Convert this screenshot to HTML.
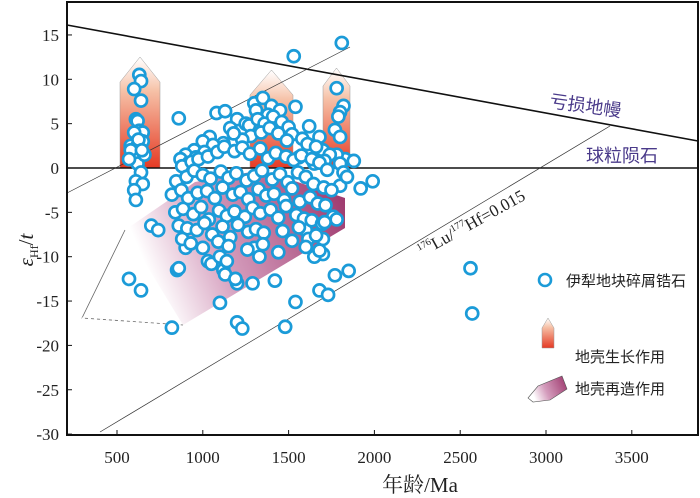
<!DOCTYPE html>
<html><head><meta charset="utf-8"><style>
html,body{margin:0;padding:0;background:#fff;}
svg{display:block;font-family:"Liberation Serif","Noto Serif CJK SC",serif;}
</style></head><body>
<div style="position:relative;width:700px;height:498px;">
<svg id="chart" width="700" height="498" viewBox="0 0 700 498" xmlns="http://www.w3.org/2000/svg" style="position:absolute;left:0;top:0;">
<defs>
<linearGradient id="growth" x1="0" y1="0" x2="0" y2="1">
<stop offset="0" stop-color="#fff" stop-opacity="0.9"/><stop offset="0.3" stop-color="#f6c2a8"/><stop offset="1" stop-color="#e53a24"/></linearGradient>
<linearGradient id="rework" x1="0" y1="0.3" x2="1" y2="0">
<stop offset="0" stop-color="#fff"/><stop offset="0.35" stop-color="#d49cbc"/><stop offset="1" stop-color="#9a3268"/></linearGradient>
</defs>
<g id="bg"></g>
<g id="pts"></g>
<g id="fg"></g>
<text x="420" y="492" text-anchor="middle" font-size="21" fill="#222">年龄/Ma</text>
<text transform="translate(33,250) rotate(-90)" text-anchor="middle" font-size="21" fill="#222"><tspan font-style="italic">ε</tspan><tspan font-size="12" dy="5">Hf</tspan><tspan dy="-5">/</tspan><tspan font-style="italic">t</tspan></text>
<text transform="translate(549,107) rotate(8)" font-size="18" fill="#4a3a8a" font-family="Noto Sans CJK SC, sans-serif">亏损地幔</text>
<text x="586" y="162" font-size="18" fill="#4a3a8a" font-family="Noto Sans CJK SC, sans-serif">球粒陨石</text>
<text transform="translate(422,257) rotate(-29)" font-size="17" fill="#222"><tspan font-size="10" dy="-7">176</tspan><tspan dy="7">Lu/</tspan><tspan font-size="10" dy="-7">177</tspan><tspan dy="7">Hf=0.015</tspan></text>
<g font-family="Noto Sans CJK SC, sans-serif" font-size="15" fill="#222">
<circle cx="545" cy="280" r="6" fill="#fff" stroke="#1b9bd8" stroke-width="2.6"/>
<text x="566" y="286">伊犁地块碎屑锆石</text>
<polygon points="542,348 542,328 548,318 554,328 554,348" fill="url(#growth)" stroke="#999" stroke-width="0.5"/>
<text x="575" y="362">地壳生长作用</text>
<polygon points="528,398 538,386 562,376 567,389 550,400 533,402" fill="url(#rework)" stroke="#555" stroke-width="0.6"/>
<text x="575" y="394">地壳再造作用</text>
</g>
</svg>
</div>
<script>
const ageTicks=[500,1000,1500,2000,2500,3000,3500];
const epsTicks=[15,10,5,0,-5,-10,-15,-20,-25,-30];
const ages=[630,640,600,640,610,620,630,650,580,620,650,600,620,640,610,650,600,610,580,660,570,600,625,645,
860,1530,1810,
1780,1820,1800,1790,1770,1800,1830,1780,1800,1820,1800,1840,1760,1780,
820,850,860,900,1030,1050,1100,1120,1140,1100,1200,1230,1420,1480,1540,1680,1700,1730,1770,1850,2560,2570,570,640,700,740,1990,1920,1880,1700,1650,1600,1300,1330,1200,
1300,1350,1400,1450,1540,1310,1380,1080,1130,1200,1250,1160,1040,1000,950,900,870,1620,1680,1700,1740,1650,1560,
1270,1320,1360,1410,1460,1500,1520,1280,1230,1180,1120,1060,1010,960,920,1340,1390,1440,1490,1580,1610,1660,1710,
880,935,975,1030,1085,1125,1185,1230,1275,1335,1380,1425,1485,1530,1575,1635,1680,1725,
845,905,950,1000,1045,1105,1150,1195,1255,1300,1345,1405,1450,1495,1555,1600,1645,1705,1750,
820,875,915,970,1025,1070,1115,1175,1220,1265,1325,1370,1415,1475,1520,1565,1625,1670,1715,
840,885,945,990,1035,1095,1140,1185,1245,1290,1335,1395,1440,1485,1545,1590,1635,1695,
860,910,965,1010,1055,1115,1160,1205,1265,1310,1355,1465,1560,1615,1660,1710,
880,930,1000,1090,1150,1260,1350,1440,1520,1600,1680,1130,1190,1290];
const eps=[10.5,9.8,8.9,7.6,5.5,5.3,4.2,4,2.5,2.5,3,1,0.5,-0.5,-1.5,-1.8,-2.5,-3.6,2,1.5,1,4,3.2,2,
5.6,12.6,14.1,
9,7,6.3,5.8,4.3,3.5,1,1.5,0.5,-0.5,-2,-1,-5.5,-5.8,
-18,-11.5,-11.3,-9,-10.5,-10.8,-10,-11.5,-10.5,-15.2,-17.4,-18.1,-12.7,-17.9,-15.1,-13.8,-9.7,-14.3,-12.1,-11.6,-11.3,-16.4,-12.5,-13.8,-6.5,-7,-1.5,-2.3,0.8,-8,-10,-7,-9,-10,-13,
7.3,7.9,7,6.5,6.9,6.5,6,6.2,6.4,5.5,5,4.5,3.5,3,2,1.5,1,4.7,3.5,2,1.5,0.5,1.2,
4.8,5.5,5,5.8,5.2,4.6,3.8,3.6,3.2,3.9,2.8,2.6,1.8,1.2,0.6,4,4.5,3.9,3.1,3.3,2.7,2.4,0.8,
0.2,0.7,1,1.3,1.8,2.4,1.9,2.3,1.6,2.2,1.1,1.7,1.3,0.9,1.4,1,0.6,-0.2,
-1.5,-1,-0.3,-0.8,-1.2,-0.4,-1.1,-0.6,-1.4,-0.9,-0.3,-1.3,-0.7,-1.6,-0.5,-1,-1.8,-2.2,-2.5,
-3,-2.5,-3.4,-2.8,-2.6,-3.4,-2.2,-3,-2.7,-3.5,-2.4,-3.1,-2.9,-3.6,-2.3,-3.8,-3.3,-4,-4.2,
-5,-4.6,-5.2,-4.4,-5.8,-4.8,-5.4,-4.9,-5.5,-4.5,-5.1,-4.7,-5.6,-4.3,-5.3,-5.7,-5.9,-6.3,
-6.5,-6.8,-7,-6.2,-7.5,-6.6,-7.8,-6.4,-7.2,-6.9,-7.3,-7.1,-6.7,-8,-7.6,-6.1,
-8,-8.5,-9,-8.3,-8.8,-9.2,-8.6,-9.5,-8.2,-8.9,-9.3,-12,-12.5,-13];
const SVGNS="http://www.w3.org/2000/svg";
const X=a=>117+(a-500)*0.1716;
const Y=e=>168-e*8.87;
function mk(tag,attrs,parent,txt){const el=document.createElementNS(SVGNS,tag);for(const k in attrs)el.setAttribute(k,attrs[k]);if(txt!==undefined)el.textContent=txt;parent.appendChild(el);return el;}
const bg=document.getElementById('bg'),pts=document.getElementById('pts'),fg=document.getElementById('fg');
let p=mk('polygon',{points:"125,230 195,182 262,170 345,198 345,228 183,325",fill:'url(#rework)'},bg);


let l=mk('polyline',{points:"183,325 82,318 125,230",fill:'none',stroke:'#666','stroke-width':0.8},bg);


mk('line',{x1:82,y1:318,x2:183,y2:325,stroke:'#fff','stroke-width':1.2,'stroke-dasharray':'3,3'},bg);
const arrows=[[120,160,57,82],[250,293,70,95],[323,350,68,86]];
arrows.forEach(a=>{const g=mk('polygon',{points:`${a[0]},168 ${a[0]},${a[3]} ${(a[0]+a[1])/2},${a[2]} ${a[1]},${a[3]} ${a[1]},168`,fill:'url(#growth)',stroke:'#999','stroke-width':0.5},bg);

});
let dm=mk('line',{x1:67,y1:25,x2:698,y2:141,stroke:'#111','stroke-width':1.6},bg);


let ch=mk('line',{x1:67,y1:168,x2:698,y2:168,stroke:'#111','stroke-width':1.6},bg);


let u1=mk('line',{x1:67,y1:193,x2:350,y2:47,stroke:'#333','stroke-width':0.7},bg);


let u2=mk('line',{x1:100,y1:432,x2:610,y2:126,stroke:'#333','stroke-width':0.7},bg);


for(let i=0;i<ages.length;i++){const c=mk('circle',{cx:X(ages[i]),cy:Y(eps[i]),r:6,fill:'#fff',stroke:'#1b9bd8','stroke-width':2.7},pts);

}
let fr=mk('path',{d:'M67,2 H698 V435 H67 Z',fill:'none',stroke:'#111','stroke-width':2},fg);


ageTicks.forEach(t=>{mk('line',{x1:X(t),y1:435,x2:X(t),y2:430,stroke:'#111','stroke-width':1},fg);
const tx=mk('text',{x:X(t),y:463,'text-anchor':'middle','font-size':17,fill:'#222'},fg,String(t));

});
epsTicks.forEach(t=>{mk('line',{x1:67,y1:Y(t),x2:72,y2:Y(t),stroke:'#111','stroke-width':1},fg);
const tx=mk('text',{x:59,y:Y(t)+6,'text-anchor':'end','font-size':17,fill:'#222'},fg,String(t));

});
</script>
</body></html>
